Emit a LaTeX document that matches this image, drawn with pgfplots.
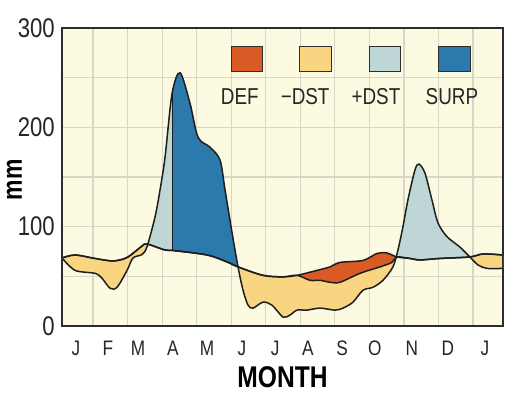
\documentclass[border=0pt]{standalone}
\usepackage{fontspec}
\setmainfont{Liberation Sans}[FakeStretch=0.82]
\usepackage{pgfplots}
\usepackage{pgfplotstable}
\pgfplotsset{compat=1.18}
\usepgfplotslibrary{fillbetween}

\definecolor{bgcream}{RGB}{252,250,224}
\definecolor{gridc}{RGB}{216,214,198}
\definecolor{defc}{RGB}{217,90,36}
\definecolor{mdst}{RGB}{249,213,130}
\definecolor{pdst}{RGB}{191,214,214}
\definecolor{surp}{RGB}{44,121,172}
\definecolor{framec}{RGB}{45,45,45}
\definecolor{linec}{RGB}{30,30,30}

% Potential evapotranspiration
\pgfplotstableread{
x y
0.10 68.5
0.479 71.5
1.058 68
1.579 65.5
1.984 69
2.418 80.5
2.563 82.5
3.084 76.5
3.316 76
4.300 71.5
4.879 64.5
5.197 59.5
5.920 51
6.499 49.5
6.904 51
7.483 56
7.859 59.5
8.149 64
8.815 66
9.220 73
9.509 73.5
9.799 69.5
10.175 68
10.465 66.5
11.044 68
11.912 69.5
12.288 72.5
12.87 71.5
}\PEtab

% Precipitation
\pgfplotstableread{
x y
0.10 68.5
0.479 56
1.058 53
1.260 48
1.492 38
1.694 39
1.984 56
2.157 68.5
2.418 72
2.563 80
2.795 110
2.939 137
3.084 170
3.287 234
3.518 255
3.808 224
4.039 190
4.387 180
4.676 167
4.821 137
5.024 94
5.197 59.5
5.342 36
5.487 21
5.631 18
5.920 24
6.181 21
6.499 9
6.702 11
6.904 16
7.194 16
7.570 18
8.004 16
8.236 18
8.525 24
8.815 36
9.105 39
9.394 46
9.683 59.5
9.828 76.5
9.973 100
10.117 127
10.320 157
10.436 163
10.609 154
10.812 127
10.985 104
11.246 90
11.622 79.5
11.912 69.5
12.144 61.5
12.405 58
12.87 58
}\Ptab

% Actual evapotranspiration
\pgfplotstableread{
x y
0.10 68.5
0.479 71.5
1.058 68
1.579 65.5
1.984 69
2.418 80.5
2.563 82.5
3.084 76.5
3.316 76
4.300 71.5
4.879 64.5
5.197 59.5
5.920 51
6.499 49.5
6.904 51
7.280 46
7.570 46
7.859 44
8.149 44
8.728 53
9.307 59.5
9.654 64
9.799 69.5
10.175 68
10.465 66.5
11.044 68
11.912 69.5
12.288 72.5
12.87 71.5
}\AEtab

\begin{document}
\begin{tikzpicture}
\begin{axis}[
  scale only axis, width=441bp, height=298bp,
  xmin=0.1, xmax=12.87, ymin=0, ymax=300,
  xtick={0.5,1.43,2.3,3.31,4.3,5.31,6.27,7.22,8.21,9.16,10.23,11.27,12.35},
  xticklabels={J,F,M,A,M,J,J,A,S,O,N,D,J},
  minor xtick={1,2,3,4,5,6,7,8,9,10,11,12},
  ytick={0,100,200,300}, minor ytick={50,150,250},
  xmajorgrids=false, xminorgrids=true, ymajorgrids=true, yminorgrids=true,
  major grid style={gridc, line width=1.3bp},
  minor grid style={gridc, line width=1.3bp},
  major tick length=0pt, minor tick length=0pt,
  tick style={draw=none},
  axis line style={framec, line width=2.4bp},
  axis background/.style={fill=bgcream},
  /pgf/number format/assume math mode=true,
  yticklabel style={font=\fontsize{27bp}{27bp}\selectfont, anchor=east, inner sep=0pt, xshift=-7bp, text=black!85},
  xticklabel style={font=\fontsize{21bp}{21bp}\selectfont, anchor=north, inner sep=0pt, yshift=-15bp, text=black!85},
  xlabel={MONTH}, ylabel={mm},
  xlabel style={font=\bfseries\fontsize{30bp}{30bp}\selectfont, at={(axis description cs:0.5,0)}, anchor=base, yshift=-61bp, inner sep=0pt},
  ylabel style={font=\bfseries\fontsize{28bp}{28bp}\selectfont, at={(axis description cs:-0.108,0.49)}, anchor=center, inner sep=0pt},
]
\coordinate (ll) at (rel axis cs:0,0);

\addplot[name path=PE, draw=none, smooth, tension=0.5] table {\PEtab};
\addplot[name path=P, draw=none, smooth, tension=0.5] table {\Ptab};
\addplot[name path=AE, draw=none, smooth, tension=0.5] table {\AEtab};

% -DST (soil moisture utilization)
\addplot[mdst] fill between[of=P and PE];
% +DST (recharge)
\addplot[pdst] fill between[of=P and PE, soft clip={domain=2.5:3.30}];
\addplot[pdst] fill between[of=P and PE, soft clip={domain=9.80:11.92}];
% SURP
\addplot[surp] fill between[of=P and PE, soft clip={domain=3.30:5.20}];
% DEF
\addplot[defc] fill between[of=AE and PE, soft clip={domain=6.90:9.80}];

\addplot[linec, line width=0.7bp] coordinates {(3.30,76) (3.30,236)};

\addplot[linec, line width=1.5bp, smooth, tension=0.5] table {\PEtab};
\addplot[linec, line width=1.5bp, smooth, tension=0.5] table {\AEtab};
\addplot[linec, line width=1.5bp, smooth, tension=0.5] table {\Ptab};

% legend
\draw[fill=defc, draw=framec, line width=0.9bp] (axis cs:5.0,256) rectangle (axis cs:5.89,281);
\draw[fill=mdst, draw=framec, line width=0.9bp] (axis cs:6.99,256) rectangle (axis cs:7.89,281);
\draw[fill=pdst, draw=framec, line width=0.9bp] (axis cs:8.99,256) rectangle (axis cs:9.89,281);
\draw[fill=surp, draw=framec, line width=0.9bp] (axis cs:11.0,256) rectangle (axis cs:11.94,281);
\node[anchor=base, inner sep=0pt, font=\fontsize{23bp}{23bp}\selectfont, text=black!85] at (axis cs:5.25,222.5) {DEF};
\node[anchor=base, inner sep=0pt, font=\fontsize{23bp}{23bp}\selectfont, text=black!85] at (axis cs:7.14,222.5) {−DST};
\node[anchor=base, inner sep=0pt, font=\fontsize{23bp}{23bp}\selectfont, text=black!85] at (axis cs:9.19,222.5) {+DST};
\node[anchor=base, inner sep=0pt, font=\fontsize{23bp}{23bp}\selectfont, text=black!85] at (axis cs:11.39,222.5) {SURP};

\draw[framec, line width=2.4bp] (rel axis cs:0,0) rectangle (rel axis cs:1,1);
\end{axis}
\pgfresetboundingbox
\path (ll) ++(-62bp,-67bp) rectangle ++(519bp,393bp);
\end{tikzpicture}
\end{document}
